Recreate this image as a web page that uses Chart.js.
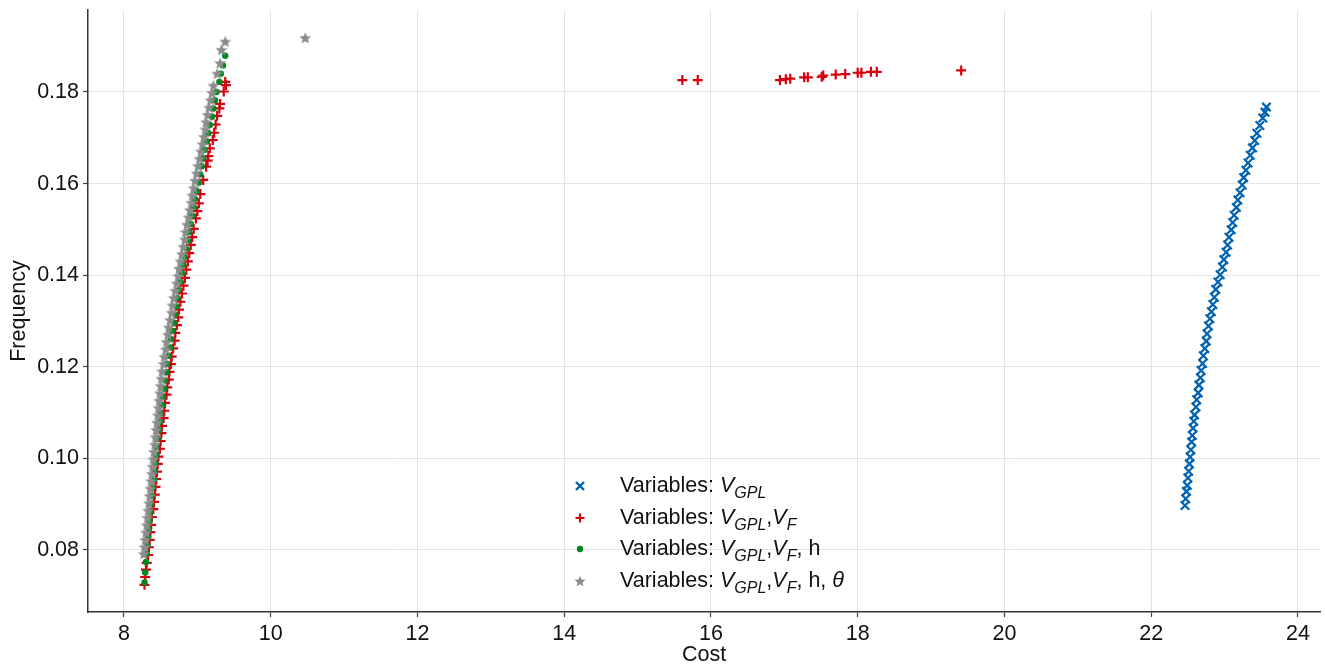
<!DOCTYPE html>
<html>
<head>
<meta charset="utf-8">
<script src="https://cdn.jsdelivr.net/npm/chart.js@4.4.1/dist/chart.umd.min.js"></script>
<style>
  html, body { margin: 0; padding: 0; background: #fff; }
  #wrap { position: relative; width: 1325px; height: 666px; font-family: "Liberation Sans", Arial, sans-serif; }
  #chart { position: absolute; left: 0; top: 0; }
  #legend { position: absolute; left: 570px; top: 470px; color: #111; font-size: 21.5px; }
  .row { position: relative; height: 31.5px; line-height: 31.5px; white-space: nowrap; }
  .row svg { position: absolute; left: 0; top: 10px; }
  .row span.txt { position: absolute; left: 50px; top: 0; }
  i { font-style: italic; }
  sub { font-size: 16px; font-style: italic; vertical-align: -6px; line-height: 0; }
</style>
</head>
<body>
<div id="wrap">
  <canvas id="chart" width="1325" height="666"></canvas>
  <div id="legend">
    <div class="row">
      <svg width="20" height="12"><path d="M6 2 L14 10 M14 2 L6 10" stroke="#0062b0" stroke-width="2.4"/></svg>
      <span class="txt">Variables: <i>V</i><sub>GPL</sub></span>
    </div>
    <div class="row">
      <svg width="20" height="12"><path d="M10 1.5 L10 10.5 M5.5 6 L14.5 6" stroke="#d7000f" stroke-width="2.2"/></svg>
      <span class="txt">Variables: <i>V</i><sub>GPL</sub>,<i>V</i><sub>F</sub></span>
    </div>
    <div class="row">
      <svg width="20" height="12"><circle cx="10" cy="6" r="3.2" fill="#00881f"/></svg>
      <span class="txt">Variables: <i>V</i><sub>GPL</sub>,<i>V</i><sub>F</sub>, h</span>
    </div>
    <div class="row">
      <svg width="20" height="12"><polygon id="legendStar" fill="#8c8c8c"/></svg>
      <span class="txt">Variables: <i>V</i><sub>GPL</sub>,<i>V</i><sub>F</sub>, h, <i>θ</i></span>
    </div>
  </div>
</div>
<script>
// axis ticks
const costTicks = [8, 10, 12, 14, 16, 18, 20, 22, 24];
const freqTicks = [0.08, 0.10, 0.12, 0.14, 0.16, 0.18];

// Variables: V_GPL
const gplCost = [22.46, 22.47, 22.48, 22.49, 22.50, 22.51, 22.52, 22.53, 22.54, 22.55, 22.56, 22.57, 22.58, 22.59,
  22.61, 22.62, 22.64, 22.65, 22.67, 22.68, 22.70, 22.71, 22.73, 22.75, 22.76, 22.78, 22.80, 22.82, 22.84, 22.86,
  22.88, 22.91, 22.94, 22.97, 22.99, 23.02, 23.04, 23.06, 23.09, 23.11, 23.13, 23.16, 23.18, 23.21, 23.24, 23.26,
  23.29, 23.32, 23.35, 23.38, 23.41, 23.44, 23.48, 23.52, 23.55, 23.57];
const gplFreq = [0.0897, 0.0912, 0.0928, 0.0941, 0.0957, 0.0972, 0.0988, 0.1003, 0.1019, 0.1036, 0.1050, 0.1066, 0.1081, 0.1095,
  0.1112, 0.1128, 0.1143, 0.1160, 0.1176, 0.1192, 0.1207, 0.1224, 0.1240, 0.1256, 0.1272, 0.1289, 0.1305, 0.1320, 0.1336, 0.1352,
  0.1369, 0.1385, 0.1401, 0.1418, 0.1434, 0.1450, 0.1466, 0.1483, 0.1499, 0.1515, 0.1531, 0.1548, 0.1564, 0.1580, 0.1597, 0.1613,
  0.1629, 0.1645, 0.1662, 0.1678, 0.1694, 0.1710, 0.1727, 0.1743, 0.1756, 0.1767];

// Variables: V_GPL, V_F
const gplVfCost = [8.28, 8.29, 8.30, 8.31, 8.33, 8.34, 8.35, 8.36, 8.37, 8.38, 8.40, 8.41, 8.42, 8.43, 8.44, 8.45,
  8.46, 8.47, 8.49, 8.50, 8.51, 8.52, 8.54, 8.55, 8.56, 8.58, 8.59, 8.61, 8.62, 8.64, 8.65, 8.67, 8.69, 8.70,
  8.72, 8.74, 8.75, 8.77, 8.79, 8.81, 8.83, 8.85, 8.87, 8.89, 8.91, 8.93, 8.95, 8.98, 9.00, 9.02, 9.04, 9.08,
  9.12, 9.14, 9.15, 9.17, 9.21, 9.23, 9.25, 9.27, 9.30, 9.31, 9.36, 9.39, 9.38,
  15.61, 15.82, 16.94, 17.02, 17.08, 17.27, 17.32, 17.51, 17.53, 17.70, 17.83, 18.00, 18.05, 18.18, 18.26, 19.41];
const gplVfFreq = [0.0724, 0.0741, 0.0757, 0.0772, 0.0789, 0.0806, 0.0822, 0.0839, 0.0855, 0.0872, 0.0889, 0.0905, 0.0921, 0.0938, 0.0955, 0.0971,
  0.0988, 0.1004, 0.1021, 0.1038, 0.1055, 0.1071, 0.1088, 0.1104, 0.1121, 0.1139, 0.1155, 0.1172, 0.1189, 0.1206, 0.1222, 0.1240, 0.1257, 0.1274,
  0.1291, 0.1308, 0.1325, 0.1342, 0.1360, 0.1377, 0.1394, 0.1412, 0.1430, 0.1448, 0.1466, 0.1483, 0.1501, 0.1524, 0.1540, 0.1557, 0.1577, 0.1608,
  0.1637, 0.1650, 0.1660, 0.1677, 0.1695, 0.1711, 0.1729, 0.1748, 0.1764, 0.1774, 0.1801, 0.1815, 0.1822,
  0.1826, 0.1826, 0.1826, 0.1828, 0.1829, 0.1832, 0.1832, 0.1833, 0.1836, 0.1838, 0.1839, 0.1842, 0.1842, 0.1844, 0.1844, 0.1847];

// Variables: V_GPL, V_F, h
const gplVfHCost = [8.28, 8.29, 8.30, 8.31, 8.32, 8.33, 8.34, 8.35, 8.36, 8.37, 8.38, 8.39, 8.41, 8.42, 8.43, 8.44,
  8.45, 8.46, 8.48, 8.49, 8.50, 8.52, 8.53, 8.55, 8.56, 8.58, 8.59, 8.61, 8.63, 8.64, 8.66, 8.68, 8.70, 8.72,
  8.73, 8.75, 8.77, 8.79, 8.81, 8.83, 8.85, 8.87, 8.89, 8.91, 8.93, 8.95, 8.97, 8.99, 9.02, 9.04, 9.06, 9.08,
  9.10, 9.13, 9.15, 9.17, 9.20, 9.22, 9.24, 9.26, 9.30, 9.32, 9.35, 9.38];
const gplVfHFreq = [0.0729, 0.0751, 0.0774, 0.0792, 0.0810, 0.0828, 0.0846, 0.0864, 0.0882, 0.0900, 0.0918, 0.0936, 0.0954, 0.0972, 0.0990, 0.1008,
  0.1026, 0.1044, 0.1062, 0.1080, 0.1098, 0.1116, 0.1134, 0.1152, 0.1170, 0.1188, 0.1206, 0.1224, 0.1242, 0.1260, 0.1278, 0.1296, 0.1314, 0.1332,
  0.1350, 0.1368, 0.1386, 0.1404, 0.1422, 0.1440, 0.1458, 0.1476, 0.1494, 0.1512, 0.1530, 0.1548, 0.1566, 0.1584, 0.1602, 0.1620, 0.1638, 0.1656,
  0.1674, 0.1692, 0.1710, 0.1728, 0.1746, 0.1764, 0.1782, 0.1800, 0.1822, 0.1840, 0.1858, 0.1879];

// Variables: V_GPL, V_F, h, theta
const allVarsCost = [8.27, 8.28, 8.29, 8.30, 8.31, 8.32, 8.33, 8.34, 8.35, 8.36, 8.37, 8.38, 8.39, 8.40, 8.41, 8.42,
  8.43, 8.44, 8.45, 8.46, 8.47, 8.48, 8.49, 8.50, 8.51, 8.52, 8.54, 8.55, 8.57, 8.58, 8.60, 8.61, 8.63, 8.65,
  8.66, 8.68, 8.70, 8.72, 8.74, 8.75, 8.77, 8.79, 8.81, 8.83, 8.84, 8.86, 8.88, 8.90, 8.92, 8.93, 8.95, 8.97,
  8.99, 9.01, 9.03, 9.05, 9.07, 9.09, 9.11, 9.12, 9.14, 9.16, 9.18, 9.20, 9.22, 9.27, 9.31, 9.33, 9.38, 10.47];
const allVarsFreq = [0.0791, 0.0806, 0.0822, 0.0838, 0.0854, 0.0870, 0.0886, 0.0902, 0.0918, 0.0934, 0.0950, 0.0966, 0.0982, 0.0998, 0.1014, 0.1030,
  0.1046, 0.1062, 0.1078, 0.1094, 0.1110, 0.1126, 0.1142, 0.1158, 0.1174, 0.1190, 0.1206, 0.1222, 0.1238, 0.1254, 0.1270, 0.1286, 0.1302, 0.1318,
  0.1334, 0.1350, 0.1366, 0.1382, 0.1398, 0.1414, 0.1430, 0.1446, 0.1462, 0.1478, 0.1494, 0.1510, 0.1526, 0.1542, 0.1558, 0.1574, 0.1590, 0.1606,
  0.1622, 0.1638, 0.1654, 0.1670, 0.1686, 0.1702, 0.1718, 0.1734, 0.1750, 0.1766, 0.1782, 0.1798, 0.1814, 0.1840, 0.1863, 0.1892, 0.1910, 0.1918];

const colors = { gpl: '#0062b0', gplVf: '#d7000f', gplVfH: '#00881f', allVars: '#8c8c8c' };

function toPoints(xs, ys) {
    return xs.map((x, i) => ({ x: x, y: ys[i] }));
}

function starPoints(cx, cy, outer, inner) {
    const pts = [];
    for (let k = 0; k < 10; k++) {
        const r = k % 2 === 0 ? outer : inner;
        const a = -Math.PI / 2 + k * Math.PI / 5;
        pts.push([cx + r * Math.cos(a), cy + r * Math.sin(a)]);
    }
    return pts;
}

// filled five point star marker
const starImg = document.createElement('canvas');
starImg.width = 14;
starImg.height = 14;
(function () {
    const c = starImg.getContext('2d');
    c.fillStyle = colors.allVars;
    c.beginPath();
    starPoints(7, 7.5, 6.3, 2.8).forEach((p, i) => i ? c.lineTo(p[0], p[1]) : c.moveTo(p[0], p[1]));
    c.closePath();
    c.fill();
})();
document.getElementById('legendStar').setAttribute('points',
    starPoints(10, 6.6, 5.8, 2.6).map(p => p.join(',')).join(' '));

const font = { family: "'Liberation Sans', Arial, sans-serif", size: 21.5 };
const titleFont = { family: "'Liberation Sans', Arial, sans-serif", size: 21.5, lineHeight: 1 };

new Chart(document.getElementById('chart'), {
    type: 'scatter',
    data: {
        datasets: [
            {
                label: 'V_GPL', data: toPoints(gplCost, gplFreq), order: 3,
                pointStyle: 'crossRot', pointRadius: 6, borderWidth: 2.2,
                borderColor: colors.gpl, backgroundColor: colors.gpl
            },
            {
                label: 'V_GPL,V_F', data: toPoints(gplVfCost, gplVfFreq), order: 2,
                pointStyle: 'cross', pointRadius: 5, borderWidth: 2.2,
                borderColor: colors.gplVf, backgroundColor: colors.gplVf
            },
            {
                label: 'V_GPL,V_F, h', data: toPoints(gplVfHCost, gplVfHFreq), order: 1,
                pointStyle: 'circle', pointRadius: 3.2, borderWidth: 0,
                borderColor: colors.gplVfH, backgroundColor: colors.gplVfH
            },
            {
                label: 'V_GPL,V_F, h, theta', data: toPoints(allVarsCost, allVarsFreq), order: 0,
                pointStyle: starImg, pointRadius: 6,
                borderColor: colors.allVars, backgroundColor: colors.allVars
            }
        ]
    },
    options: {
        responsive: false,
        animation: false,
        events: [],
        layout: { autoPadding: false, padding: { top: 10, right: 5, left: 0, bottom: 0 } },
        plugins: { legend: { display: false }, tooltip: { enabled: false } },
        scales: {
            x: {
                type: 'linear',
                min: 7.51,
                max: 24.30,
                afterBuildTicks: s => { s.ticks = costTicks.map(v => ({ value: v })); },
                afterFit: s => { s.height = 54; s.paddingLeft = 0; s.paddingRight = 0; },
                grid: { color: '#e4e4e4', lineWidth: 1, tickLength: 5, tickColor: '#444', tickWidth: 1.2 },
                border: { color: '#333', width: 1.5 },
                ticks: { font: font, color: '#111', padding: 4 },
                title: { display: true, text: 'Cost', font: titleFont, color: '#111', padding: { top: 0, bottom: 0 } }
            },
            y: {
                type: 'linear',
                min: 0.06646,
                max: 0.1979,
                afterBuildTicks: s => { s.ticks = freqTicks.map(v => ({ value: v })); },
                afterFit: s => { s.width = 88; s.paddingTop = 0; s.paddingBottom = 0; },
                grid: { color: '#e4e4e4', lineWidth: 1, tickLength: 5, tickColor: '#444', tickWidth: 1.2 },
                border: { color: '#333', width: 1.5 },
                ticks: { font: font, color: '#111', padding: 4, callback: v => v.toFixed(2) },
                title: { display: true, text: 'Frequency', font: font, color: '#111', padding: { top: 6, bottom: 0 } }
            }
        }
    }
});
</script>
</body>
</html>
